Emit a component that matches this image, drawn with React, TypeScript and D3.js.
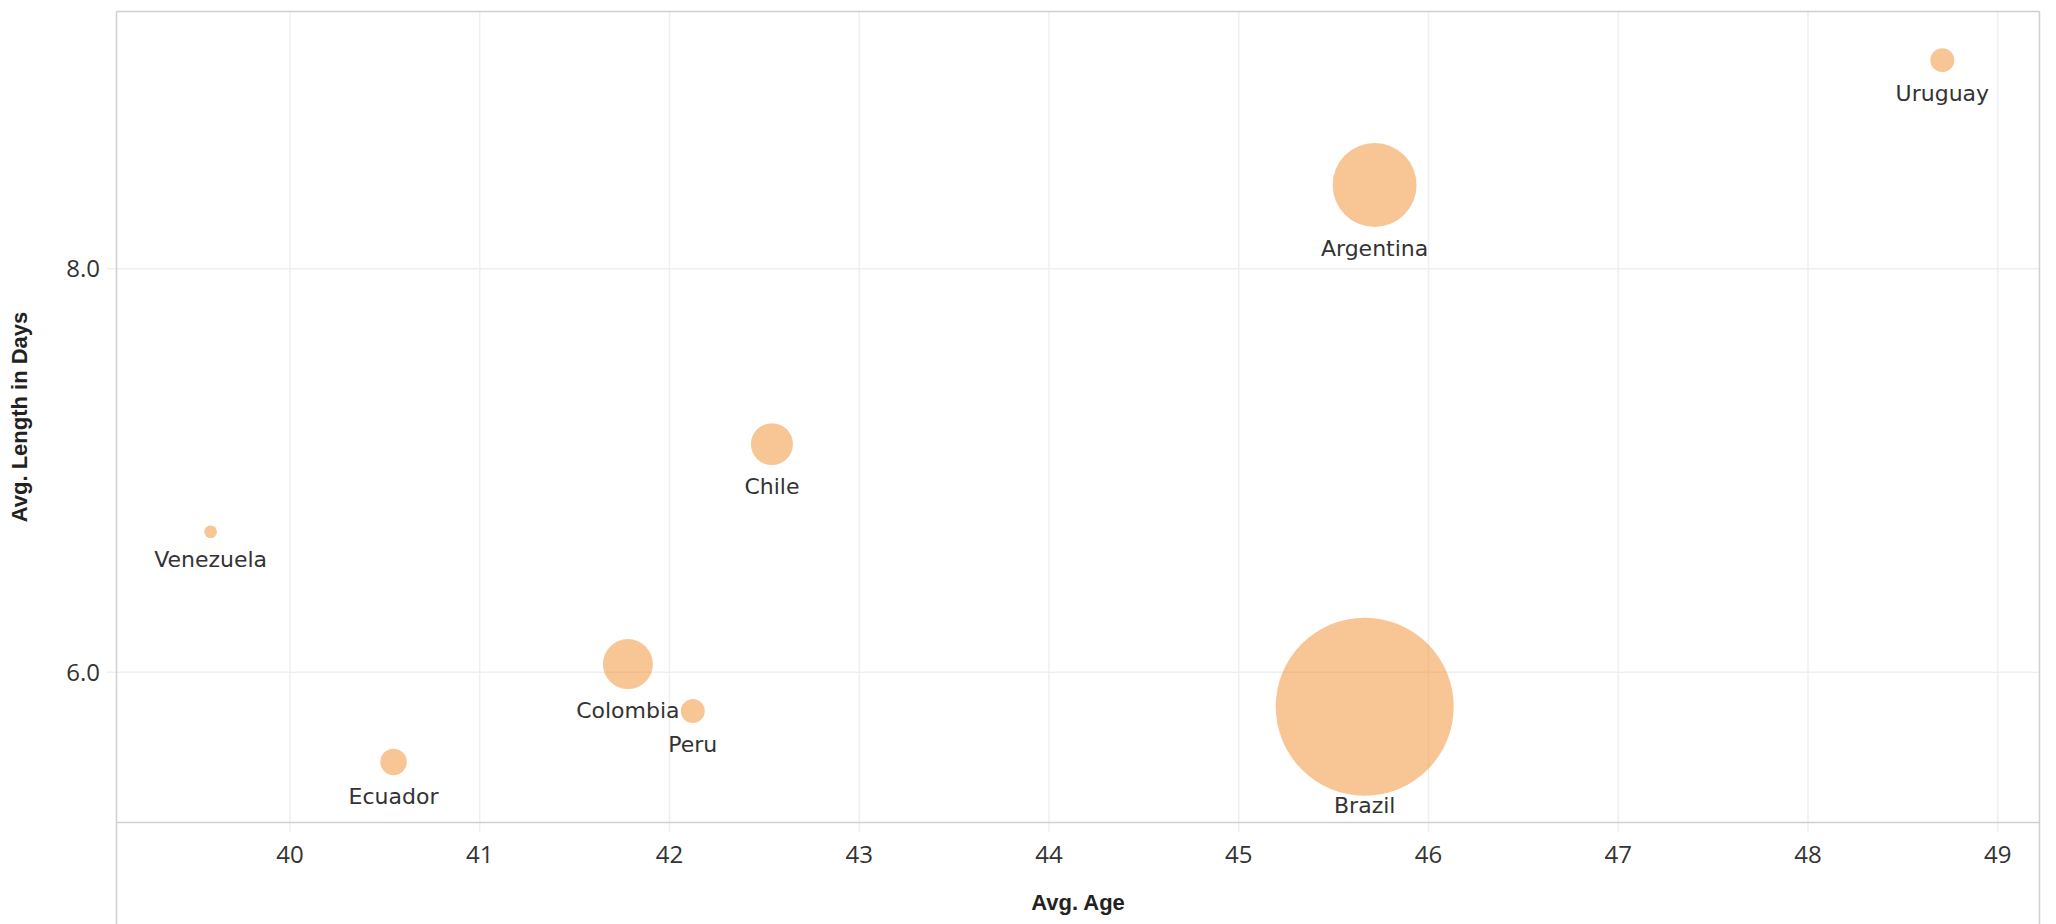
import React from "react";
import * as d3 from "d3";

const countries = ["Argentina", "Brazil", "Chile", "Colombia", "Ecuador", "Peru", "Uruguay", "Venezuela"];
const avgAge = [45.716, 45.664, 42.54, 41.781, 40.546, 42.123, 48.708, 39.582];
const avgLength = [8.415, 5.83, 7.131, 6.041, 5.556, 5.808, 9.034, 6.697];
const recordCount = [44.1, 198, 11.0, 15.6, 4.4, 3.6, 3.6, 1.0];
const xTicks = [40, 41, 42, 43, 44, 45, 46, 47, 48, 49];
const yTicks = [6, 8];

const W = 2056;
const H = 924;
const L = 116.5;
const T = 11.5;
const R = 2039.5;
const B = 822.5;

export default function App() {
  const x = d3.scaleLinear().domain([39.086, 49.22]).range([L, R]);
  const y = d3.scaleLinear().domain([5.256, 9.275]).range([B, T]);
  const r = d3.scaleSqrt().domain([0, 198]).range([0, 89]);
  const fmt = d3.format(".1f");

  const data = countries.map((c, i) => ({
    name: c,
    age: avgAge[i],
    len: avgLength[i],
    n: recordCount[i],
  }));
  const order = [...data].sort((a, b) => b.n - a.n);

  const tickFont = "'Open Sans', sans-serif";
  const labelFont = "'DejaVu Sans', sans-serif";
  const titleFont = "'Liberation Sans', Arial, sans-serif";

  return (
    <div style={{ position: "absolute", left: 0, top: 0 }}>
      <svg width={W} height={H} style={{ display: "block", background: "#fff" }}>
        {/* vertical gridlines + ticks */}
        {xTicks.map((t) => (
          <line key={"gx" + t} x1={x(t)} x2={x(t)} y1={T} y2={B + 10} stroke="#efefef" strokeWidth={1.5} />
        ))}
        {/* horizontal gridlines + ticks */}
        {yTicks.map((t) => (
          <line key={"gy" + t} x1={L - 10} x2={R} y1={y(t)} y2={y(t)} stroke="#efefef" strokeWidth={1.5} />
        ))}
        {/* borders */}
        <line x1={L} x2={R} y1={T} y2={T} stroke="#d0d0d0" strokeWidth={1.3} />
        <line x1={L} x2={L} y1={T} y2={H} stroke="#d0d0d0" strokeWidth={1.5} />
        <line x1={R} x2={R} y1={T} y2={H} stroke="#d0d0d0" strokeWidth={1.5} />
        <line x1={L} x2={R} y1={B} y2={B} stroke="#d0d0d0" strokeWidth={1.3} />

        {/* marks */}
        {order.map((d) => (
          <circle key={d.name} cx={x(d.age)} cy={y(d.len)} r={r(d.n)} fill="#f28e2b" fillOpacity={0.5} />
        ))}

        {/* mark labels */}
        {data.map((d) => {
          const base = Math.min(y(d.len) + r(d.n) + 29, B - 10);
          return (
            <text
              key={"l" + d.name}
              x={x(d.age)}
              y={base}
              textAnchor="middle"
              fontFamily={labelFont}
              fontSize={22}
              fill="#333"
            >
              {d.name}
            </text>
          );
        })}

        {/* x tick labels */}
        {xTicks.map((t) => (
          <text
            key={"tx" + t}
            x={x(t)}
            y={862.5}
            textAnchor="middle"
            fontFamily={tickFont}
            fontSize={24}
            fill="#333"
          >
            {t}
          </text>
        ))}
        {/* y tick labels */}
        {yTicks.map((t) => (
          <text
            key={"ty" + t}
            x={100}
            y={y(t) + 8.7}
            textAnchor="end"
            fontFamily={tickFont}
            fontSize={24}
            fill="#333"
          >
            {fmt(t)}
          </text>
        ))}

        {/* axis titles */}
        <text
          x={(L + R) / 2}
          y={910}
          textAnchor="middle"
          fontFamily={titleFont}
          fontWeight="bold"
          fontSize={22}
          fill="#222"
        >
          Avg. Age
        </text>
        <text
          transform={`translate(27, ${(T + B) / 2}) rotate(-90)`}
          textAnchor="middle"
          fontFamily={titleFont}
          fontWeight="bold"
          fontSize={22}
          fill="#222"
        >
          Avg. Length in Days
        </text>
      </svg>
    </div>
  );
}
